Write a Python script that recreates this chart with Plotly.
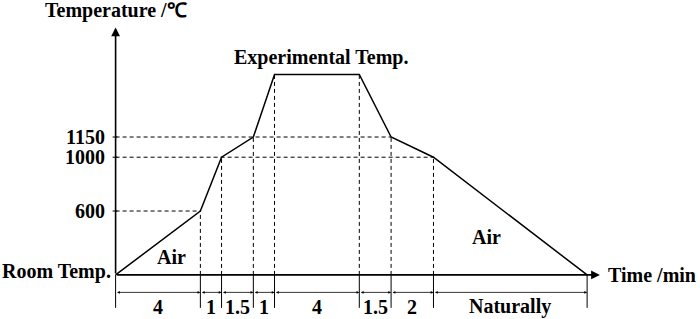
import numpy as np
import plotly.graph_objects as go

# ---------------- data ----------------
durations = [4, 1, 1.5, 1, 4, 1.5, 2, 7.25]          # min per stage
duration_labels = ["4", "1", "1.5", "1", "4", "1.5", "2", "Naturally"]
room_temp = 125          # schematic "Room Temp." level
exp_temp = 1615          # schematic "Experimental Temp." level
stage_temps = [room_temp, 600, 1000, 1150, exp_temp, exp_temp, 1150, 1000, room_temp]
temp_ticks = [600, 1000, 1150]
temp_tick_labels = ["600", "1000", "1150"]

times = np.concatenate([[0.0], np.cumsum(durations)])

# ---------------- geometry ----------------
W, H = 700, 319
X_ORIG_PX, PX_PER_MIN = 115.5, 21.2
Y_ORIG_PX, PX_PER_DEG = 275, 0.13478
XR = [-0.5, 23.0]
YR = [50, 2020]
ml = X_ORIG_PX + XR[0] * PX_PER_MIN
mr = W - (X_ORIG_PX + XR[1] * PX_PER_MIN)
mt = Y_ORIG_PX - (YR[1] - room_temp) * PX_PER_DEG
mb = H - (Y_ORIG_PX + (room_temp - YR[0]) * PX_PER_DEG)


def paper_y(p):
    """image pixel row -> paper y"""
    return (H - mb - p) / (H - mt - mb)


x_tip = (600 - X_ORIG_PX) / PX_PER_MIN
y_tip = room_temp + (Y_ORIG_PX - 27) / PX_PER_DEG
tick_len = 3 / PX_PER_MIN

FONT = dict(family="Liberation Serif, Times New Roman, serif", size=20,
            color="black", weight="bold")

fig = go.Figure()
fig.add_trace(go.Scatter(x=times, y=stage_temps, mode="lines",
                         line=dict(color="black", width=1.5),
                         hoverinfo="skip", cliponaxis=False))

shapes = []
dash = dict(color="black", width=1, dash="4px,3px")
# horizontal dashed guides
for tv in temp_ticks:
    idx = max(i for i, t in enumerate(stage_temps) if t == tv)
    shapes.append(dict(type="line", xref="x", yref="y", x0=0, x1=times[idx],
                       y0=tv, y1=tv, line=dash))
    shapes.append(dict(type="line", xref="x", yref="y", x0=-tick_len,
                       x1=tick_len * 0.6, y0=tv, y1=tv,
                       line=dict(color="black", width=1)))
# vertical dashed guides
for t, tv in zip(times[1:-1], stage_temps[1:-1]):
    shapes.append(dict(type="line", xref="x", yref="y", x0=t, x1=t,
                       y0=room_temp, y1=tv, line=dash))
# extension lines below axis
for t in times:
    shapes.append(dict(type="line", xref="x", yref="paper", x0=t, x1=t,
                       y0=paper_y(275), y1=paper_y(308),
                       line=dict(color="black", width=1)))

ann = []
# axes with arrows
ann.append(dict(x=0, y=y_tip, ax=0, ay=room_temp, xref="x", yref="y",
                axref="x", ayref="y", showarrow=True, arrowhead=2,
                arrowsize=1.1, arrowwidth=1.6, arrowcolor="black", text=""))
ann.append(dict(x=x_tip, y=room_temp, ax=0, ay=room_temp, xref="x", yref="y",
                axref="x", ayref="y", showarrow=True, arrowhead=2,
                arrowsize=1.1, arrowwidth=1.6, arrowcolor="black", text=""))
# dimension arrows and labels
for i, lab in enumerate(duration_labels):
    ann.append(dict(x=times[i + 1], ax=times[i], y=paper_y(292.5), ay=0,
                    xref="x", axref="x", yref="paper", ayref="pixel",
                    showarrow=True, arrowhead=2, arrowside="end+start",
                    arrowsize=0.7, arrowwidth=0.8, arrowcolor="black", text=""))
    ann.append(dict(x=(times[i] + times[i + 1]) / 2, y=paper_y(307),
                    xref="x", yref="paper", text=lab, showarrow=False,
                    font=FONT, yanchor="middle"))
# y tick labels
for tv, lab in zip(temp_ticks, temp_tick_labels):
    ann.append(dict(x=0, y=tv, xref="x", yref="y", text=lab, showarrow=False,
                    xanchor="right", xshift=-9, font=FONT, yanchor="middle"))
ann.append(dict(x=0, y=room_temp, xref="x", yref="y", text="Room Temp.",
                showarrow=False, xanchor="right", xshift=-3, yshift=3,
                font=FONT, yanchor="middle"))
ann.append(dict(x=0, y=y_tip, xref="x", yref="y", text="Temperature /℃",
                showarrow=False, yanchor="middle", yshift=17, font=FONT))
ann.append(dict(x=x_tip, y=room_temp, xref="x", yref="y", text="Time /min",
                showarrow=False, xanchor="left", xshift=6, font=FONT,
                yanchor="middle"))
ann.append(dict(x=(times[4] + times[5]) / 2, y=exp_temp, xref="x", yref="y",
                text="Experimental Temp.", showarrow=False, yshift=17,
                xshift=4, font=FONT, yanchor="middle"))
ann.append(dict(x=2.65, y=258, xref="x", yref="y", text="Air",
                showarrow=False, font=FONT, yanchor="middle"))
ann.append(dict(x=17.5, y=407, xref="x", yref="y", text="Air",
                showarrow=False, font=FONT, yanchor="middle"))

fig.update_layout(
    width=W, height=H,
    margin=dict(l=ml, r=mr, t=mt, b=mb, pad=0, autoexpand=False),
    paper_bgcolor="white", plot_bgcolor="white",
    showlegend=False,
    xaxis=dict(range=XR, visible=False, fixedrange=True),
    yaxis=dict(range=YR, visible=False, fixedrange=True),
    shapes=shapes, annotations=ann,
)

fig.write_html("out.html", config={"displayModeBar": False},
               post_script="document.body.style.margin='0px';"
                           "document.body.style.overflow='hidden';")
